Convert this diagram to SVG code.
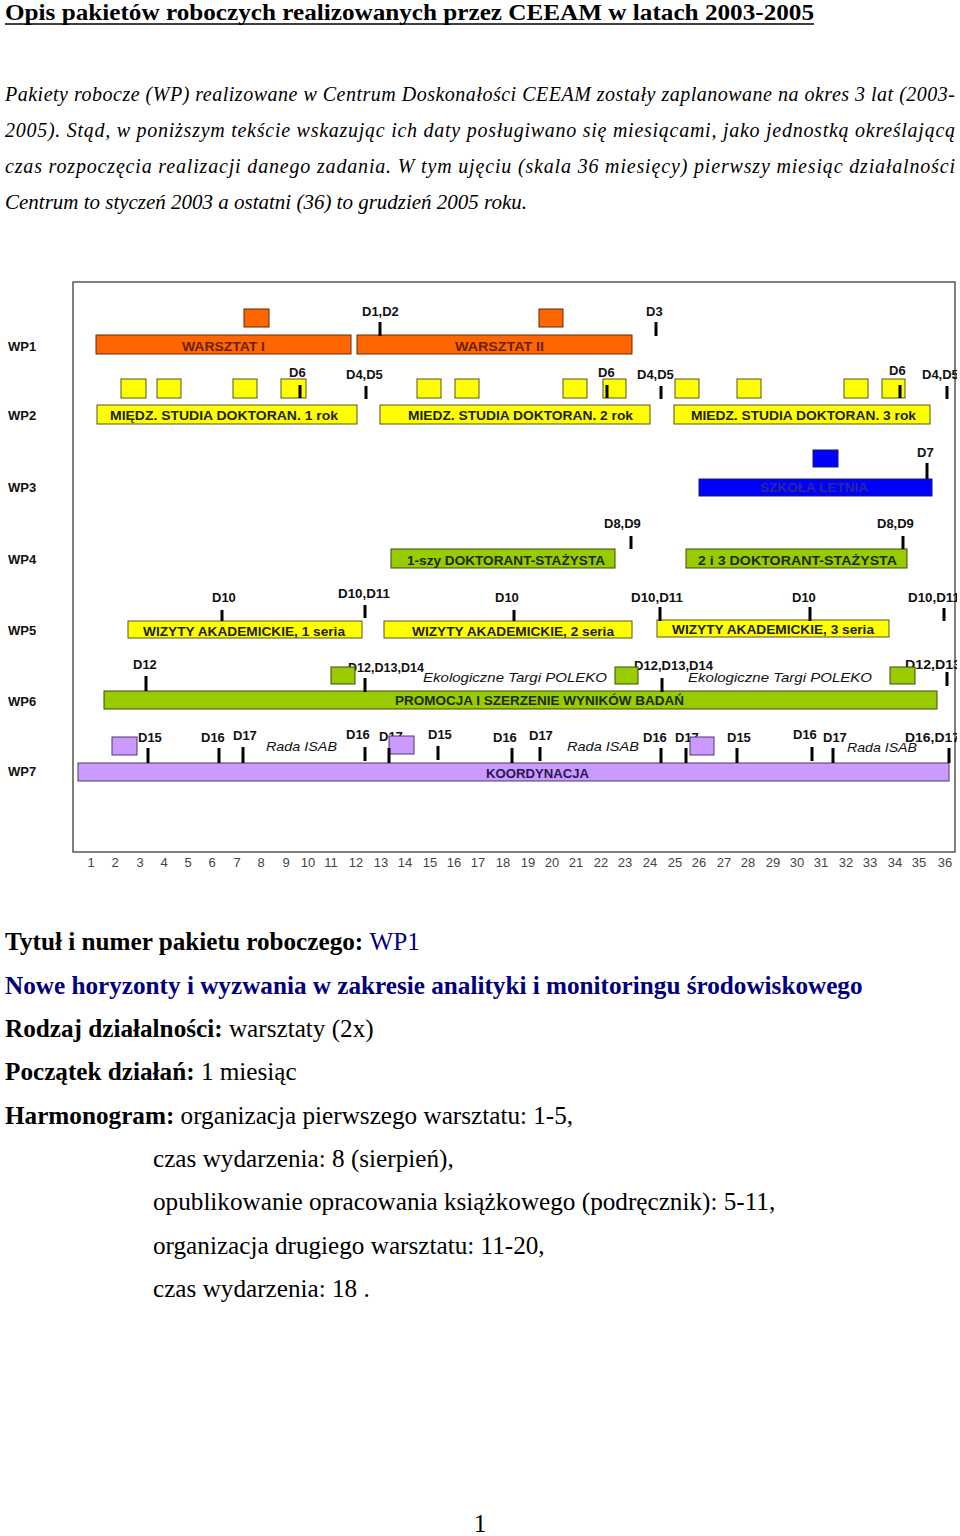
<svg xmlns="http://www.w3.org/2000/svg" width="960" height="1536" viewBox="0 0 960 1536">
<defs>
<style>
.doc{font-family:"Liberation Serif","Times New Roman",serif;fill:#000}
.ttl{font-size:24px;font-weight:bold}
.body{font-size:20px;font-style:italic}
.lt{font-size:25.2px}
.b{font-weight:bold}
.navy{fill:#000080}
.wp{font-family:"Liberation Sans",Arial,sans-serif;font-size:13px;font-weight:bold;fill:#111}
.dl{font-family:"Liberation Sans",Arial,sans-serif;font-size:13px;font-weight:bold;fill:#111}
.bt{font-family:"Liberation Sans",Arial,sans-serif;font-size:13.5px;font-weight:bold}
.it{font-family:"Liberation Sans",Arial,sans-serif;font-size:13px;font-style:italic;fill:#111}
.ax{font-family:"Liberation Sans",Arial,sans-serif;font-size:13px;fill:#444;text-anchor:middle}
.or{fill:#FF6600;stroke:#5a2a10;stroke-width:1}
.ye{fill:#FFFF00;stroke:#555522;stroke-width:1}
.gr{fill:#99CC00;stroke:#3a4a10;stroke-width:1}
.bl{fill:#0000FF;stroke:#1a1a60;stroke-width:1}
.pu{fill:#CC99FF;stroke:#4a3a6a;stroke-width:1}
.tk{stroke:#000;stroke-width:3}
</style>
<clipPath id="clipR"><rect x="0" y="280" width="957" height="600"/></clipPath>
</defs>
<rect width="960" height="1536" fill="#fff"/>

<g id="header" class="doc">
<text class="ttl" x="5" y="20" textLength="809" lengthAdjust="spacingAndGlyphs">Opis pakietów roboczych realizowanych przez CEEAM w latach 2003-2005</text>
<line x1="5" y1="24" x2="814" y2="24" stroke="#000" stroke-width="1.5"/>
<text class="body" x="5" y="101" textLength="950" lengthAdjust="spacing">Pakiety robocze (WP) realizowane w Centrum Doskonałości CEEAM zostały zaplanowane na okres 3 lat (2003-</text>
<text class="body" x="5" y="137" textLength="950" lengthAdjust="spacing">2005). Stąd, w poniższym tekście wskazując ich daty posługiwano się miesiącami, jako jednostką określającą</text>
<text class="body" x="5" y="173" textLength="950" lengthAdjust="spacing">czas rozpoczęcia realizacji danego zadania. W tym ujęciu (skala 36 miesięcy) pierwszy miesiąc działalności</text>
<text class="body" x="5" y="209" textLength="522" lengthAdjust="spacingAndGlyphs">Centrum to styczeń 2003 a ostatni (36) to grudzień 2005 roku.</text>
</g>

<g id="chart">
<rect id="frame" x="73" y="282" width="882" height="570" fill="#fff" stroke="#555" stroke-width="1.5"/>
<g id="wp-labels" class="wp">
<text x="8" y="351">WP1</text>
<text x="8" y="420">WP2</text>
<text x="8" y="492">WP3</text>
<text x="8" y="564">WP4</text>
<text x="8" y="635">WP5</text>
<text x="8" y="706">WP6</text>
<text x="8" y="776">WP7</text>
</g>

<g clip-path="url(#clipR)">
<g id="wp1">
<rect class="or" x="96" y="335" width="255" height="19"/>
<rect class="or" x="357" y="335" width="275" height="19"/>
<rect class="or" x="244" y="309" width="25" height="18"/>
<rect class="or" x="539" y="309" width="24" height="18"/>
<text class="bt" x="182" y="351" fill="#6a2200" textLength="83" lengthAdjust="spacingAndGlyphs">WARSZTAT I</text>
<text class="bt" x="455" y="351" fill="#6a2200" textLength="89" lengthAdjust="spacingAndGlyphs">WARSZTAT II</text>
<text class="dl" x="362" y="316">D1,D2</text>
<text class="dl" x="646" y="316">D3</text>
<line class="tk" x1="380" y1="322" x2="380" y2="336"/>
<line class="tk" x1="656" y1="322" x2="656" y2="336"/>
</g>

<g id="wp2">
<rect class="ye" x="121" y="379" width="25" height="19"/>
<rect class="ye" x="157" y="379" width="24" height="19"/>
<rect class="ye" x="233" y="379" width="24" height="19"/>
<rect class="ye" x="281" y="379" width="25" height="19"/>
<rect class="ye" x="417" y="379" width="24" height="19"/>
<rect class="ye" x="455" y="379" width="24" height="19"/>
<rect class="ye" x="563" y="379" width="24" height="19"/>
<rect class="ye" x="603" y="379" width="23" height="19"/>
<rect class="ye" x="675" y="379" width="24" height="19"/>
<rect class="ye" x="737" y="379" width="24" height="19"/>
<rect class="ye" x="844" y="379" width="24" height="19"/>
<rect class="ye" x="882" y="379" width="23" height="19"/>
<rect class="ye" x="97" y="405" width="260" height="19"/>
<rect class="ye" x="380" y="405" width="270" height="19"/>
<rect class="ye" x="674" y="405" width="256" height="19"/>
<text class="bt" x="110" y="420" fill="#222" textLength="228" lengthAdjust="spacingAndGlyphs">MIĘDZ. STUDIA DOKTORAN. 1  rok</text>
<text class="bt" x="408" y="420" fill="#222" textLength="225" lengthAdjust="spacingAndGlyphs">MIEDZ. STUDIA DOKTORAN. 2 rok</text>
<text class="bt" x="691" y="420" fill="#222" textLength="225" lengthAdjust="spacingAndGlyphs">MIEDZ. STUDIA DOKTORAN. 3 rok</text>
<text class="dl" x="289" y="377">D6</text>
<text class="dl" x="346" y="379">D4,D5</text>
<text class="dl" x="598" y="377">D6</text>
<text class="dl" x="637" y="379">D4,D5</text>
<text class="dl" x="889" y="375">D6</text>
<text class="dl" x="922" y="379">D4,D5</text>
<line class="tk" x1="300" y1="385" x2="300" y2="398"/>
<line class="tk" x1="366" y1="386" x2="366" y2="399"/>
<line class="tk" x1="607" y1="385" x2="607" y2="398"/>
<line class="tk" x1="661" y1="386" x2="661" y2="399"/>
<line class="tk" x1="900" y1="385" x2="900" y2="398"/>
<line class="tk" x1="947" y1="386" x2="947" y2="399"/>
</g>

<g id="wp3">
<rect class="bl" x="813" y="450" width="25" height="17"/>
<rect class="bl" x="699" y="479" width="233" height="17"/>
<text class="bt" x="760" y="492" fill="#2a2a90" textLength="108" lengthAdjust="spacingAndGlyphs">SZKOŁA LETNIA</text>
<text class="dl" x="917" y="457">D7</text>
<line class="tk" x1="927" y1="463" x2="927" y2="479"/>
</g>

<g id="wp4">
<rect class="gr" x="391" y="549" width="224" height="19"/>
<rect class="gr" x="686" y="549" width="221" height="19"/>
<text class="bt" x="407" y="565" fill="#1e2a00" textLength="198" lengthAdjust="spacingAndGlyphs">1-szy DOKTORANT-STAŻYSTA</text>
<text class="bt" x="698" y="565" fill="#1e2a00" textLength="199" lengthAdjust="spacingAndGlyphs">2 i 3  DOKTORANT-STAŻYSTA</text>
<text class="dl" x="604" y="528">D8,D9</text>
<text class="dl" x="877" y="528">D8,D9</text>
<line class="tk" x1="631" y1="536" x2="631" y2="549"/>
<line class="tk" x1="903" y1="536" x2="903" y2="549"/>
</g>

<g id="wp5">
<rect class="ye" x="128" y="621" width="234" height="17"/>
<rect class="ye" x="384" y="621" width="248" height="17"/>
<rect class="ye" x="657" y="620" width="232" height="17"/>
<text class="bt" x="143" y="636" fill="#222" textLength="202" lengthAdjust="spacingAndGlyphs">WIZYTY AKADEMICKIE, 1 seria</text>
<text class="bt" x="412" y="636" fill="#222" textLength="202" lengthAdjust="spacingAndGlyphs">WIZYTY AKADEMICKIE, 2 seria</text>
<text class="bt" x="672" y="634" fill="#222" textLength="202" lengthAdjust="spacingAndGlyphs">WIZYTY AKADEMICKIE, 3 seria</text>
<text class="dl" x="212" y="602">D10</text>
<text class="dl" x="338" y="598" textLength="52" lengthAdjust="spacingAndGlyphs">D10,D11</text>
<text class="dl" x="495" y="602">D10</text>
<text class="dl" x="631" y="602" textLength="52" lengthAdjust="spacingAndGlyphs">D10,D11</text>
<text class="dl" x="792" y="602">D10</text>
<text class="dl" x="908" y="602" textLength="52" lengthAdjust="spacingAndGlyphs">D10,D11</text>
<line class="tk" x1="222" y1="610" x2="222" y2="621"/>
<line class="tk" x1="365" y1="605" x2="365" y2="618"/>
<line class="tk" x1="514" y1="610" x2="514" y2="621"/>
<line class="tk" x1="660" y1="607" x2="660" y2="621"/>
<line class="tk" x1="810" y1="607" x2="810" y2="621"/>
<line class="tk" x1="944" y1="608" x2="944" y2="621"/>
</g>

<g id="wp6">
<rect class="gr" x="104" y="691" width="833" height="18"/>
<text class="bt" x="395" y="705" fill="#1e2a00" textLength="289" lengthAdjust="spacingAndGlyphs">PROMOCJA I SZERZENIE WYNIKÓW BADAŃ</text>
<text class="dl" x="133" y="669">D12</text>
<text class="dl" x="348" y="672" textLength="76" lengthAdjust="spacingAndGlyphs">D12,D13,D14</text>
<text class="dl" x="634" y="670" textLength="79" lengthAdjust="spacingAndGlyphs">D12,D13,D14</text>
<text class="dl" x="905" y="669" textLength="56" lengthAdjust="spacingAndGlyphs">D12,D13</text>
<rect class="gr" x="331" y="667" width="24" height="17"/>
<rect class="gr" x="615" y="667" width="23" height="17"/>
<rect class="gr" x="890" y="667" width="25" height="17"/>
<text class="it" x="423" y="682" textLength="184" lengthAdjust="spacingAndGlyphs">Ekologiczne Targi POLEKO</text>
<text class="it" x="688" y="682" textLength="184" lengthAdjust="spacingAndGlyphs">Ekologiczne Targi POLEKO</text>
<line class="tk" x1="146" y1="676" x2="146" y2="691"/>
<line class="tk" x1="365" y1="678" x2="365" y2="692"/>
<line class="tk" x1="662" y1="678" x2="662" y2="692"/>
<line class="tk" x1="947" y1="672" x2="947" y2="686"/>
</g>

<g id="wp7">
<rect class="pu" x="78" y="763" width="871" height="18"/>
<text class="bt" x="486" y="778" fill="#241a50" textLength="103" lengthAdjust="spacingAndGlyphs">KOORDYNACJA</text>
<text class="dl" x="138" y="742">D15</text>
<text class="dl" x="201" y="742">D16</text>
<text class="dl" x="233" y="740">D17</text>
<text class="it" x="266" y="751" textLength="71" lengthAdjust="spacingAndGlyphs">Rada ISAB</text>
<text class="dl" x="346" y="739">D16</text>
<text class="dl" x="379" y="741">D17</text>
<text class="dl" x="428" y="739">D15</text>
<text class="dl" x="493" y="742">D16</text>
<text class="dl" x="529" y="740">D17</text>
<text class="it" x="567" y="751" textLength="72" lengthAdjust="spacingAndGlyphs">Rada ISAB</text>
<text class="dl" x="643" y="742">D16</text>
<text class="dl" x="675" y="742">D17</text>
<text class="dl" x="727" y="742">D15</text>
<text class="dl" x="793" y="739">D16</text>
<text class="dl" x="823" y="742">D17</text>
<text class="it" x="847" y="752" textLength="70" lengthAdjust="spacingAndGlyphs">Rada ISAB</text>
<text class="dl" x="905" y="742" textLength="55" lengthAdjust="spacingAndGlyphs">D16,D17</text>
<rect class="pu" x="112" y="737" width="25" height="18"/>
<rect class="pu" x="389" y="736" width="25" height="18"/>
<rect class="pu" x="690" y="737" width="24" height="18"/>
<line class="tk" x1="148" y1="748" x2="148" y2="763"/>
<line class="tk" x1="219" y1="748" x2="219" y2="763"/>
<line class="tk" x1="243" y1="747" x2="243" y2="763"/>
<line class="tk" x1="365" y1="747" x2="365" y2="761"/>
<line class="tk" x1="389" y1="748" x2="389" y2="763"/>
<line class="tk" x1="438" y1="746" x2="438" y2="760"/>
<line class="tk" x1="512" y1="748" x2="512" y2="763"/>
<line class="tk" x1="540" y1="747" x2="540" y2="761"/>
<line class="tk" x1="661" y1="748" x2="661" y2="763"/>
<line class="tk" x1="686" y1="748" x2="686" y2="763"/>
<line class="tk" x1="737" y1="748" x2="737" y2="763"/>
<line class="tk" x1="812" y1="747" x2="812" y2="761"/>
<line class="tk" x1="833" y1="748" x2="833" y2="763"/>
<line class="tk" x1="949" y1="748" x2="949" y2="763"/>
</g>
</g>

<g id="axis" class="ax">
<text x="91" y="867">1</text><text x="115" y="867">2</text><text x="140" y="867">3</text><text x="164" y="867">4</text><text x="188" y="867">5</text><text x="212" y="867">6</text><text x="237" y="867">7</text><text x="261" y="867">8</text><text x="286" y="867">9</text><text x="308" y="867">10</text><text x="331" y="867">11</text><text x="356" y="867">12</text><text x="381" y="867">13</text><text x="405" y="867">14</text><text x="430" y="867">15</text><text x="454" y="867">16</text><text x="478" y="867">17</text><text x="503" y="867">18</text><text x="528" y="867">19</text><text x="552" y="867">20</text><text x="576" y="867">21</text><text x="601" y="867">22</text><text x="625" y="867">23</text><text x="650" y="867">24</text><text x="675" y="867">25</text><text x="699" y="867">26</text><text x="724" y="867">27</text><text x="748" y="867">28</text><text x="773" y="867">29</text><text x="797" y="867">30</text><text x="821" y="867">31</text><text x="846" y="867">32</text><text x="870" y="867">33</text><text x="895" y="867">34</text><text x="919" y="867">35</text><text x="945" y="867">36</text>
</g>
</g>

<g id="connectors"/>

<g id="details" class="doc lt">
<text x="5" y="950"><tspan class="b">Tytuł i numer pakietu roboczego: </tspan><tspan class="navy">WP1</tspan></text>
<text x="5" y="994" class="b navy">Nowe horyzonty i wyzwania w zakresie analityki i monitoringu środowiskowego</text>
<text x="5" y="1037"><tspan class="b">Rodzaj działalności: </tspan>warsztaty (2x)</text>
<text x="5" y="1080"><tspan class="b">Początek działań: </tspan>1 miesiąc</text>
<text x="5" y="1124"><tspan class="b">Harmonogram: </tspan>organizacja pierwszego warsztatu: 1-5,</text>
<text x="153" y="1167">czas wydarzenia: 8 (sierpień),</text>
<text x="153" y="1210">opublikowanie opracowania książkowego (podręcznik): 5-11,</text>
<text x="153" y="1254">organizacja drugiego warsztatu: 11-20,</text>
<text x="153" y="1297">czas wydarzenia: 18 .</text>
<text x="480" y="1532" text-anchor="middle">1</text>
</g>
</svg>
